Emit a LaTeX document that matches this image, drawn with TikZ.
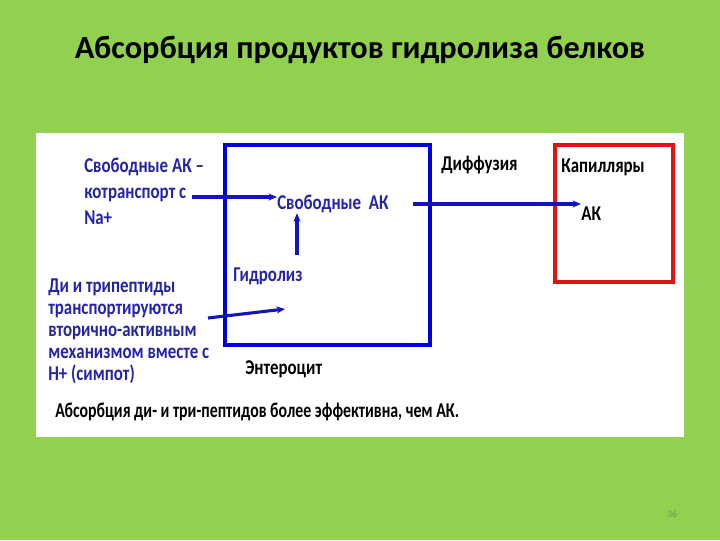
\documentclass[tikz,border=0pt]{standalone}
\usepackage{fontspec}
\setmainfont{Carlito}
\newfontfamily\condfont{Carlito}[FakeStretch=0.8]
\newfontfamily\notefont{Carlito}[FakeStretch=0.75]
\usetikzlibrary{arrows.meta}
\definecolor{slidegreen}{HTML}{92D050}
\definecolor{textblue}{HTML}{2424A8}
\definecolor{boxblue}{HTML}{0000DC}
\definecolor{arrowblue}{HTML}{1414BE}
\definecolor{boxred}{HTML}{DC1414}
\definecolor{pagegrey}{HTML}{6E9A5A}
\begin{document}
\begin{tikzpicture}[x=0.025cm, y=-0.025cm,
  bluetxt/.style={text=textblue, font=\condfont\bfseries\fontsize{15}{18.5}\selectfont, align=left, inner sep=0pt},
  blacktxt/.style={text=black, font=\condfont\bfseries\fontsize{15}{18.5}\selectfont, align=left, inner sep=0pt},
  flow/.style={draw=arrowblue, line width=2.2pt, -{Stealth[length=6pt, width=5pt]}},
  cellbox/.style={draw=boxblue, line width=2.2pt, minimum width=5.125cm, minimum height=5cm, inner sep=0pt},
  capbox/.style={draw=boxred, line width=2.2pt, minimum width=2.95cm, minimum height=3.425cm, inner sep=0pt}]
% slide
\fill[slidegreen] (0,0) rectangle (720,540);
\fill[white] (36,133) rectangle (684,437);
\node[font=\bfseries\fontsize{23}{27}\selectfont] (title) at (360,50) {Абсорбция продуктов гидролиза белков};
\node[text=pagegrey, font=\fontsize{7}{8}\selectfont] (pnum) at (672,514) {36};
% boxes
\node[cellbox] (cell) at (327.5,245) {};
\node[capbox] (cap) at (614,213.5) {};
% texts
\node[bluetxt, anchor=north west] (cotrans) at (84,158) {Свободные АК –\\котранспорт с\\Na+};
\node[bluetxt, anchor=west] (freeak) at (277,204) {Свободные\ \ АК};
\node[bluetxt, anchor=west] (hydro) at (233,276) {Гидролиз};
\node[bluetxt, anchor=north west, font=\condfont\bfseries\fontsize{15}{15.6}\selectfont] (ditri) at (48,279) {Ди и трипептиды\\транспортируются\\вторично-активным\\механизмом вместе с\\Н+ (симпот)};
\node[blacktxt, anchor=west] (entero) at (245,369) {Энтероцит};
\node[blacktxt, anchor=west] (diff) at (441,165) {Диффузия};
\node[blacktxt, anchor=west] (capil) at (561,167) {Капилляры};
\node[blacktxt, anchor=west] (ak) at (581,214) {АК};
\node[blacktxt, anchor=west, font=\notefont\bfseries\fontsize{15}{18.5}\selectfont] (note) at (55,412) {Абсорбция ди- и три-пептидов более эффективна, чем АК.};
% arrows
\coordinate (cstart) at (192,197);
\coordinate (hstart) at (297,255);
\coordinate (dstart) at (208,318);
\coordinate (dend) at (285,309);
\draw[flow] (cstart) -- (cstart -| freeak.west);
\draw[flow] (hstart) -- (hstart |- freeak.south);
\draw[flow] (dstart) -- (dend);
\draw[flow, shorten <=17pt] (freeak.east) -- (ak.west |- freeak.east);
\end{tikzpicture}
\end{document}
